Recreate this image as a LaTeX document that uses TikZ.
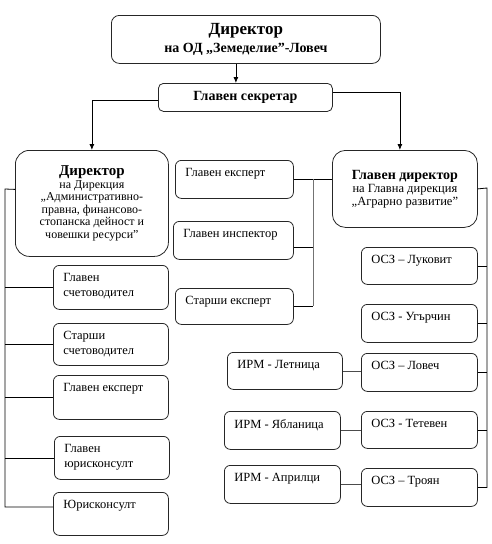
\documentclass[tikz,border=0pt]{standalone}
\usepackage{fontspec}
\setmainfont{Liberation Serif}
\usetikzlibrary{positioning,arrows.meta,calc}
\newcommand{\ucell}[3]{\parbox[c][\dimexpr#2-16pt\relax][t]{\dimexpr#1-20pt\relax}{\raggedright #3}}

\begin{document}
\begin{tikzpicture}[x=1pt, y=-1pt, line width=0.8pt,
  head/.style={draw=black!85, rounded corners=#1, anchor=north west, align=center, inner sep=2pt},
  unit/.style={draw=black!85, rounded corners=6pt, anchor=north west, inner xsep=10pt,
               inner ysep=8pt, font=\fontsize{12.5}{15}\selectfont},
  arr/.style={-{Latex[length=6pt,width=5pt]}}]
\useasboundingbox (0,0) rectangle (492,544);

\node[head=8pt, minimum width=269pt, minimum height=48pt] (top) at (111,15)
  {{\fontsize{17}{19}\selectfont\bfseries Директор}\\[4pt]
   {\fontsize{14}{16}\selectfont\bfseries на ОД „Земеделие”-Ловеч}};
\node[head=5pt, minimum width=174pt, minimum height=28pt,
      font=\fontsize{14}{16}\selectfont\bfseries] (sec) at (158,83) {Главен секретар};
\node[head=14pt, minimum width=153pt, minimum height=106pt,
      font=\fontsize{12}{12.5}\selectfont] (dir) at (15,150)
  {{\fontsize{15}{17}\selectfont\bfseries Директор}\\ на Дирекция\\ „Административно-\\
   правна, финансово-\\ стопанска дейност и\\ човешки ресурси”};
\node[head=13pt, minimum width=145pt, minimum height=77pt,
      font=\fontsize{12.5}{13}\selectfont] (gd) at (332,150)
  {{\fontsize{14}{16}\selectfont\bfseries Главен директор}\\ на Главна дирекция\\ „Аграрно развитие”};

% middle column
\node[unit] (me) at (175,160) {\ucell{118pt}{38pt}{Главен експерт}};
\node[unit] (mi) at (173,221) {\ucell{120pt}{38pt}{Главен инспектор}};
\node[unit] (ms) at (175,288) {\ucell{118pt}{36pt}{Старши експерт}};

% left column
\node[unit] (a1) at (53,265) {\ucell{115pt}{44pt}{Главен\\счетоводител}};
\node[unit] (a2) at (53,323) {\ucell{115pt}{42pt}{Старши\\счетоводител}};
\node[unit] (a3) at (53,375) {\ucell{115pt}{44pt}{Главен експерт}};
\node[unit] (a4) at (54,436) {\ucell{115pt}{43pt}{Главен\\юрисконсулт}};
\node[unit] (a5) at (53,492) {\ucell{115pt}{43pt}{Юрисконсулт}};

% right column
\node[unit] (o1) at (361,247) {\ucell{116pt}{37pt}{ОСЗ – Луковит}};
\node[unit] (o2) at (361,304) {\ucell{116pt}{38pt}{ОСЗ - Угърчин}};
\node[unit] (o3) at (361,353) {\ucell{116pt}{38pt}{ОСЗ – Ловеч}};
\node[unit] (o4) at (361,411) {\ucell{116pt}{37pt}{ОСЗ - Тетевен}};
\node[unit] (o5) at (361,468) {\ucell{116pt}{38pt}{ОСЗ – Троян}};

\node[unit] (r1) at (227,352) {\ucell{115pt}{37pt}{ИРМ - Летница}};
\node[unit] (r2) at (224,411) {\ucell{116pt}{38pt}{ИРМ - Ябланица}};
\node[unit] (r3) at (224,465) {\ucell{116pt}{38pt}{ИРМ - Априлци}};

% connectors
\draw[arr] ([xshift=-10pt]top.south) -- ([xshift=-10pt]top.south |- sec.north);
\draw[arr] ([yshift=-3pt]sec.west) -| (dir.north);
\draw[arr] ([yshift=5pt]sec.east) -| ([xshift=-5pt]gd.north);

\coordinate (mrail) at (313,179);
\draw (me.east) -- (me.east -| gd.west);
\draw[black!55] (mrail) -- (mrail |- ms.east);
\draw ([yshift=-7pt]mi.east) -- ([yshift=-7pt]mi.east -| mrail);
\draw (ms.east) -- (ms.east -| mrail);

\coordinate (rrail) at (487,188);
\draw (gd.east) -- (rrail) |- (o5.east);
\foreach \n in {1,...,4}
  \draw (o\n.east) -- (o\n.east -| rrail);
\foreach \r/\o in {1/3,2/4,3/5}
  \draw[black!70] (r\r.east) -- (r\r.east -| o\o.west);

\coordinate (lrail) at (5,189);
\draw ([yshift=14pt]dir.west) -- (lrail) |- ([yshift=7pt]a5.west);
\foreach \n in {1,...,4}
  \draw (a\n.west) -- (a\n.west -| lrail);
\end{tikzpicture}
\end{document}
